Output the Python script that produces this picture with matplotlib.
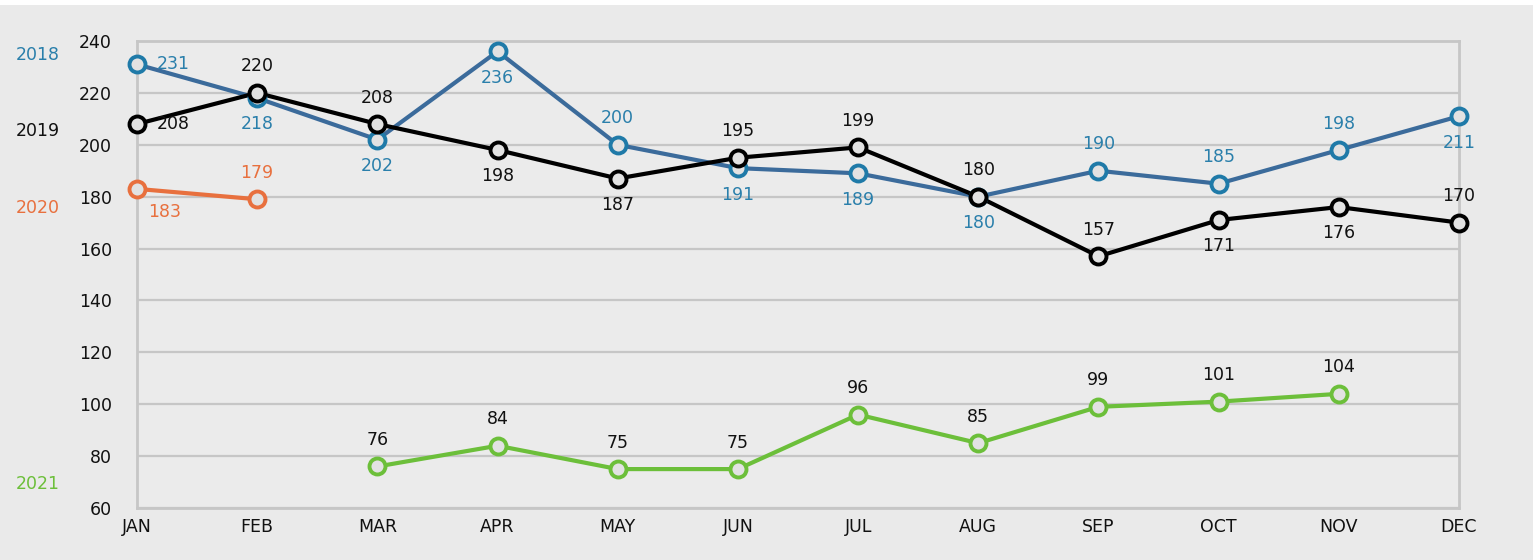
import numpy as np
import matplotlib
matplotlib.use("Agg")
import matplotlib.pyplot as plt
from matplotlib.patches import Rectangle

months = ["JAN", "FEB", "MAR", "APR", "MAY", "JUN", "JUL", "AUG", "SEP", "OCT", "NOV", "DEC"]
v2018 = [231, 218, 202, 236, 200, 191, 189, 180, 190, 185, 198, 211]
v2019 = [208, 220, 208, 198, 187, 195, 199, 180, 157, 171, 176, 170]
v2020 = [183, 179]
v2021 = [None, None, 76, 84, 75, 75, 96, 85, 99, 101, 104]

# where each value label sits: a=above, b=below, r=right, br=below right
pos2018 = ["r", "b", "b", "b", "a", "b", "b", "b", "a", "a", "a", "b"]
pos2019 = ["r", "a", "a", "b", "b", "a", "a", "a", "a", "b", "b", "a"]
pos2020 = ["br", "a"]
pos2021 = [None, None] + ["a"] * 9

plt.rcParams['font.family'] = ['DejaVu Sans']
FS = 12.5

fig = plt.figure(figsize=(15.38, 5.6), dpi=100, facecolor="#eaeaea")
# white borders at the top and right edge
fig.patches.append(Rectangle((0, 1 - 5 / 560), 1, 5 / 560, transform=fig.transFigure,
                             facecolor="white", edgecolor="none"))
fig.patches.append(Rectangle((1533 / 1538, 0), 5 / 1538, 1, transform=fig.transFigure,
                             facecolor="white", edgecolor="none"))

ax = fig.add_axes([137 / 1538, 1 - 508 / 560, (1459 - 137) / 1538, (508 - 41) / 560])
ax.set_facecolor("#ebebeb")


def draw(vals, pos, line_col, mark_col, text_col):
    x = [i for i, v in enumerate(vals) if v is not None]
    y = [v for v in vals if v is not None]
    ax.plot(x, y, color=line_col, lw=3, zorder=3, solid_capstyle="round", clip_on=False)
    ax.plot(x, y, ls="none", marker="o", ms=11.5, mew=2.8, mec=mark_col,
            mfc="#e2e2e2", zorder=4, clip_on=False)
    for xi, yi in zip(x, y):
        p = pos[xi]
        if p == "a":
            off, ha = (0, 19), "center"
        elif p == "b":
            off, ha = (0, -19), "center"
        elif p == "br":
            off, ha = (20, -17), "center"
        else:
            off, ha = (14, 0), "left"
        ax.annotate(str(yi), (xi, yi), xytext=off, textcoords="offset points",
                    ha=ha, va="center", fontsize=FS, color=text_col, zorder=5)


draw(v2018, pos2018, "#3b6b9b", "#1f7aa8", "#2a7fab")
draw(v2019, pos2019, "#000000", "#000000", "#111111")
draw(v2020, pos2020, "#e8703e", "#e8703e", "#e8703e")
draw(v2021, pos2021, "#6cbf3a", "#6cbf3a", "#111111")

ax.set_xlim(0, 11)
ax.set_ylim(60, 240)
ax.set_xticks(range(12))
ax.set_xticklabels(months)
ax.set_yticks(np.arange(60, 241, 20))
ax.grid(axis="y", color="#c6c6c6", lw=1.6)
ax.set_axisbelow(True)
for s in ax.spines.values():
    s.set_color("#c6c6c6")
    s.set_linewidth(2)
ax.tick_params(length=0, labelsize=FS, colors="#111111")
ax.tick_params(axis="y", pad=18)
ax.tick_params(axis="x", pad=7)

# year labels at the left side
fig.text(38 / 1538, 1 - 55 / 560, "2018", color="#2a7fab", fontsize=FS, ha="center", va="center")
fig.text(38 / 1538, 1 - 131 / 560, "2019", color="#111111", fontsize=FS, ha="center", va="center")
fig.text(38 / 1538, 1 - 208 / 560, "2020", color="#e8703e", fontsize=FS, ha="center", va="center")
fig.text(38 / 1538, 1 - 484 / 560, "2021", color="#6cbf3a", fontsize=FS, ha="center", va="center")

fig.savefig("out.png", dpi=100, facecolor=fig.get_facecolor())
